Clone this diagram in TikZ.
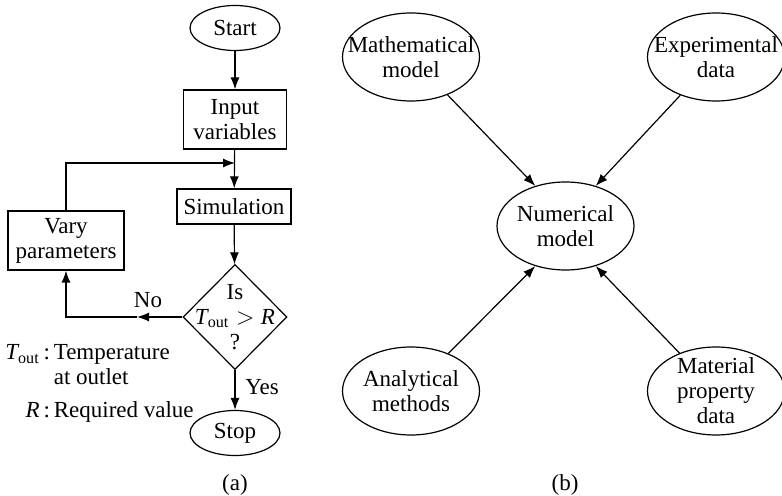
\documentclass[tikz,border=0pt]{standalone}
\usepackage{fontspec}
\setmainfont{Liberation Serif}
\usetikzlibrary{arrows.meta,positioning,shapes.geometric}
\tikzset{
  base/.style={draw,line width=0.6pt,font=\fontsize{11.5}{12.5}\selectfont,align=center},
  terminal/.style={base,ellipse,inner sep=0pt,minimum width=45pt,minimum height=22.5pt},
  process/.style={base,rectangle,inner sep=2pt},
  decision/.style={base,diamond,inner sep=-6pt,minimum width=52pt,minimum height=52.5pt},
  bubble/.style={base,ellipse,inner xsep=-9pt,inner ysep=-6pt,minimum width=68.5pt,minimum height=44pt},
  plain/.style={font=\fontsize{11.5}{12.5}\selectfont,inner sep=0pt},
  arr/.style={-{Latex[length=6pt,width=4.5pt]},line width=0.6pt}
}

\begin{document}
\begin{tikzpicture}[x=0.5pt,y=-0.5pt]
  \useasboundingbox (0,0) rectangle (782,496);
  % (a) flowchart
  \node[terminal] (start) at (235,28) {Start};
  \node[process,minimum width=51.5pt,minimum height=29.5pt] (input) at (235,119.5) {Input\\variables};
  \coordinate (jn) at (235,163);
  \node[process,minimum width=57pt,minimum height=17.5pt] (sim) at (234,206.5) {Simulation};
  \node[process,minimum width=58pt,minimum height=29.5pt] (vary) at (66,240.5) {Vary\\parameters};
  \node[decision] (dec) at (235,317) {Is\\$\mathit{T}_{\mathrm{out}}>\mathit{R}$\\?};
  \node[terminal] (stop) at (235,433) {Stop};
  \coordinate (nomid) at (137,317);

  \draw[arr] (start) -- (input);
  \draw[arr] (input) -- (sim);
  \draw[arr] (vary.north) |- (jn);
  \draw[arr] (sim) -- (dec);
  \draw[arr] (dec.west) -- (nomid);
  \draw[arr] (nomid) -| (vary.south);
  \draw[arr] (dec.south) -- (stop);
  \node[plain] (no) at (148,300) {No};
  \node[plain] (yes) at (262,387) {Yes};

  \node[plain,anchor=west] (legend) at (5,384) {%
    \begin{tabular}{@{}r@{}l@{}}
      $\mathit{T}_{\mathrm{out}}$\,:\,{} & Temperature\\
      & at outlet\\[4pt]
      $\mathit{R}$\,:\,{} & Required value
    \end{tabular}};
  \node[plain] (capa) at (235,485) {(a)};

  % (b) sources of the numerical model
  \node[bubble] (num) at (565.5,226) {Numerical\\model};
  \foreach \n/\t/\x/\y/\a in {
      math/Mathematical\\model/411/57/127,
      expt/Experimental\\data/716/57/53,
      anal/Analytical\\methods/411/391/233,
      matl/Material\\property\\data/716/391/307}
  {
    \node[bubble] (\n) at (\x,\y) {\t};
    \draw[arr] (\n) -- (num.\a);
  }
  \node[plain] (capb) at (565,485) {(b)};
\end{tikzpicture}
\end{document}
